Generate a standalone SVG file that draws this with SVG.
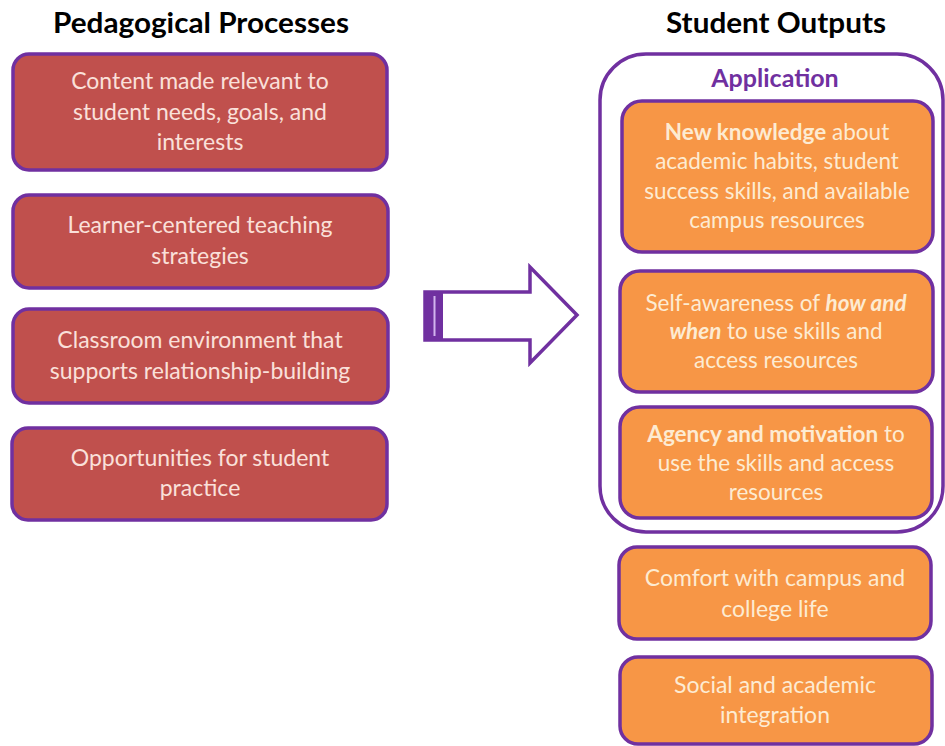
<svg xmlns="http://www.w3.org/2000/svg" width="945" height="746" viewBox="0 0 945 746">
<style>
text{font-family:Lato,"Liberation Sans",sans-serif;text-anchor:middle}
.title{font-size:29px;font-weight:bold;fill:#000}
.red{fill:#C0504D;stroke:#7030A0;stroke-width:3.5}
.org{fill:#F79646;stroke:#7030A0;stroke-width:3.5}
.lt{font-size:23px;fill:#FAE0DA}
.rt{font-size:22.5px;fill:#FDEBD2}
.b{font-weight:bold}
.bi{font-weight:bold;font-style:italic}
</style>
<rect width="945" height="746" fill="#fff"/>
<text class="title" x="201" y="33" textLength="296" lengthAdjust="spacingAndGlyphs">Pedagogical Processes</text>
<text class="title" x="776" y="33" textLength="220" lengthAdjust="spacingAndGlyphs">Student Outputs</text>

<g id="p1"><rect class="red" x="13" y="54" width="374" height="116" rx="16"/>
<text class="lt" x="200" y="89">Content made relevant to</text>
<text class="lt" x="200" y="120">student needs, goals, and</text>
<text class="lt" x="200" y="150">interests</text></g>
<g id="p2"><rect class="red" x="13" y="195" width="375" height="93" rx="16"/>
<text class="lt" x="200" y="233">Learner-centered teaching</text>
<text class="lt" x="200" y="264">strategies</text></g>
<g id="p3"><rect class="red" x="13" y="309" width="375" height="94" rx="16"/>
<text class="lt" x="200" y="348">Classroom environment that</text>
<text class="lt" x="200" y="379">supports relationship-building</text></g>
<g id="p4"><rect class="red" x="12" y="428" width="375" height="92" rx="16"/>
<text class="lt" x="200" y="466">Opportunities for student</text>
<text class="lt" x="200" y="496">practice</text></g>

<g id="connectors">
<polygon points="425,292 530,292 530,267 577,315 530,363 530,340 425,340" fill="#fff" stroke="#7030A0" stroke-width="3.5" stroke-linejoin="miter"/>
<rect x="425" y="292" width="18" height="48" fill="#7030A0"/>
<line x1="434.5" y1="296" x2="434.5" y2="336" stroke="#D2B4EE" stroke-width="2"/>
</g>

<g id="application"><rect x="600" y="54" width="343" height="478" rx="46" fill="none" stroke="#7030A0" stroke-width="3.5"/>
<text x="775" y="87" font-size="25" font-weight="bold" fill="#7030A0">Application</text></g>
<g id="o1"><rect class="org" x="622" y="101" width="311" height="151" rx="20"/>
<text class="rt" x="777" y="140"><tspan class="b">New knowledge</tspan> about</text>
<text class="rt" x="777" y="169">academic habits, student</text>
<text class="rt" x="777" y="199">success skills, and available</text>
<text class="rt" x="777" y="228">campus resources</text></g>
<g id="o2"><rect class="org" x="620" y="271" width="313" height="121" rx="20"/>
<text class="rt" x="776" y="311">Self-awareness of <tspan class="bi">how and</tspan></text>
<text class="rt" x="776" y="339"><tspan class="bi">when</tspan> to use skills and</text>
<text class="rt" x="776" y="368">access resources</text></g>
<g id="o3"><rect class="org" x="620" y="407" width="312" height="111" rx="20"/>
<text class="rt" x="776" y="442"><tspan class="b">Agency and motivation</tspan> to</text>
<text class="rt" x="776" y="471">use the skills and access</text>
<text class="rt" x="776" y="500">resources</text></g>
<g id="o4"><rect class="org" x="619" y="547" width="312" height="92" rx="18"/>
<text class="lt" x="775" y="586" style="fill:#FDEBD2">Comfort with campus and</text>
<text class="lt" x="775" y="617" style="fill:#FDEBD2">college life</text></g>
<g id="o5"><rect class="org" x="620" y="657" width="312" height="87" rx="18"/>
<text class="lt" x="775" y="693" style="fill:#FDEBD2">Social and academic</text>
<text class="lt" x="775" y="723" style="fill:#FDEBD2">integration</text></g>
</svg>
